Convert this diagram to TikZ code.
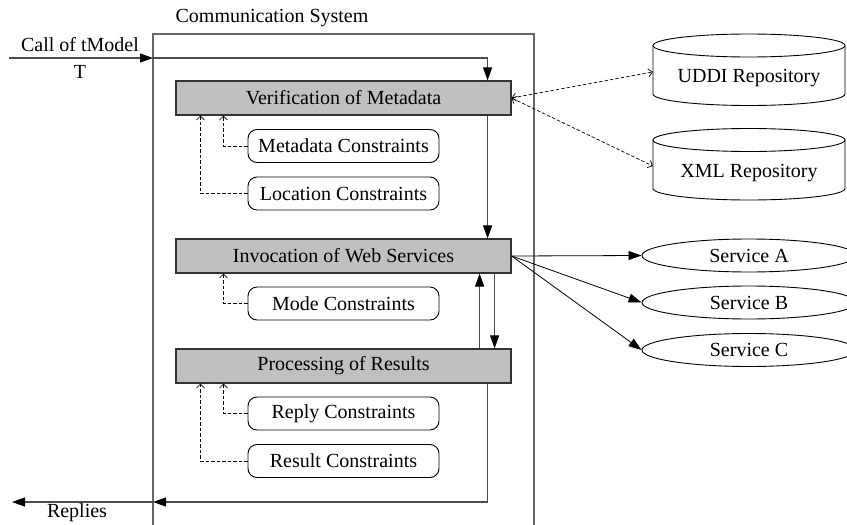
\documentclass[tikz,border=0pt]{standalone}
\usepackage{fontspec}
\setmainfont{Liberation Serif}
\usetikzlibrary{arrows.meta,shapes.geometric}
\tikzset{
  tri/.tip={Triangle[length=13pt,width=9pt,color=black]},
  barb/.tip={Straight Barb[length=4pt,width=8pt]},
}
\begin{document}
\begin{tikzpicture}[x=1pt,y=-1pt,
  every node/.style={font=\fontsize{20}{24}\selectfont, inner sep=0pt},
  stage/.style={draw=black!80, fill={rgb,255:red,192;green,192;blue,192}, line width=1.2pt,
                minimum width=335pt, minimum height=34pt},
  constraint/.style={draw=black, fill=white, rounded corners=9pt, line width=0.9pt,
                     minimum width=191pt, minimum height=33pt},
  frame/.style={draw=black!60, line width=1.2pt},
  flow/.style={draw=black!70, line width=1.1pt, -tri},
  link/.style={draw=black, line width=0.8pt, -tri},
  dep/.style={draw=black, line width=0.7pt, dash pattern=on 3.5pt off 2pt, -barb},
  dualdep/.style={dep, barb-barb},
  store/.style={draw=black, line width=0.9pt},
  service/.style={ellipse, draw=black, line width=0.9pt, minimum width=214pt, minimum height=33pt},
]
\useasboundingbox (0,0) rectangle (847,525);
\clip (0,0) rectangle (847,525);

% system frame (open at the bottom)
\draw[frame] (153,530) -- (153,34) -- (534,34) -- (534,530);
\node (systxt) at (272,18) {Communication System};

% processing stages
\node[stage] (verif) at (343.5,98) {Verification of Metadata};
\node[stage] (invoc) at (343.5,256) {Invocation of Web Services};
\node[stage] (proc)  at (343.5,366) {Processing of Results};

% constraints
\node[constraint] (metac)   at (343.5,146)   {Metadata Constraints};
\node[constraint] (locc)    at (343.5,193.5) {Location Constraints};
\node[constraint] (modec)   at (343.5,303.5) {Mode Constraints};
\node[constraint] (replyc)  at (343.5,413.5) {Reply Constraints};
\node[constraint] (resultc) at (343.5,461)   {Result Constraints};

\draw[dep] (metac.west)   -| ([xshift=48pt]verif.south west);
\draw[dep] (locc.west)    -| ([xshift=25pt]verif.south west);
\draw[dep] (modec.west)   -| ([xshift=48pt]invoc.south west);
\draw[dep] (replyc.west)  -| ([xshift=48pt]proc.south west);
\draw[dep] (resultc.west) -| ([xshift=25pt]proc.south west);

% repositories
\draw[store] (653,45.5) -- (653,94) arc[start angle=180, end angle=0, x radius=96, y radius=11.5] -- (845,45.5);
\draw[store] (749,45.5) ellipse[x radius=96, y radius=11.5];
\node[minimum width=192pt] (uddi) at (749,78) {UDDI Repository};

\draw[store] (653,140) -- (653,188.5) arc[start angle=180, end angle=0, x radius=96, y radius=11.5] -- (845,140);
\draw[store] (749,140) ellipse[x radius=96, y radius=11.5];
\node[minimum width=192pt] (xml) at (749,173) {XML Repository};

\draw[dualdep] (verif.east) -- ([yshift=6pt]uddi.west);
\draw[dualdep] (verif.east) -- ([yshift=7pt]xml.west);

% services
\node[service] (srvA) at (749,255.5) {Service A};
\node[service] (srvB) at (749,302.5) {Service B};
\node[service] (srvC) at (749,350)   {Service C};
\draw[link] (invoc.east) -- (srvA.west);
\draw[link] (invoc.east) -- (srvB.west);
\draw[link] (invoc.east) -- (srvC.west);

% control flow
\coordinate (callin) at (9,58);
\coordinate (sysin) at (153,58);
\coordinate (sysout) at (153,502);
\coordinate (repout) at (12,502);
\node (calltxt) at (80,45) {Call of tModel};
\node (ttxt) at (80,72) {T};
\node (reptxt) at (77,513) {Replies};

\draw[flow] (callin) -- (sysin);
\draw[flow] (sysin) -| ([xshift=-24pt]verif.north east);
\draw[flow] ([xshift=-24pt]verif.south east) -- ([xshift=-24pt]invoc.north east);
\draw[flow] ([xshift=-17pt]invoc.south east) -- ([xshift=-17pt]proc.north east);
\draw[flow] ([xshift=-32pt]proc.north east) -- ([xshift=-32pt]invoc.south east);
\draw[flow] ([xshift=-24pt]proc.south east) |- (sysout);
\draw[flow] (sysout) -- (repout);
\end{tikzpicture}
\end{document}
